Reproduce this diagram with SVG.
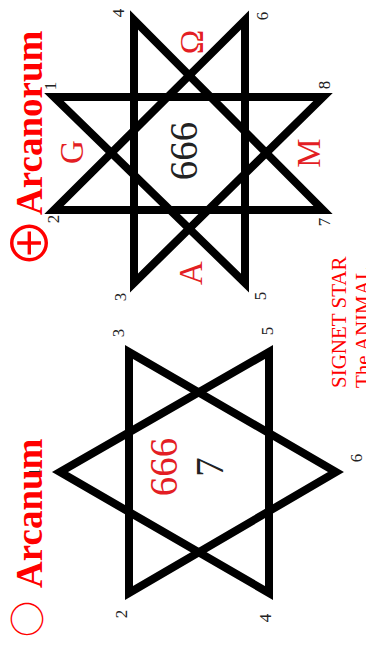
<svg xmlns="http://www.w3.org/2000/svg" width="366" height="645" viewBox="0 0 366 645">
<style>
.star{fill:none;stroke:#000;stroke-width:8;stroke-linejoin:miter;stroke-miterlimit:10}
.lbl{font-family:"Liberation Serif","DejaVu Serif",serif;font-size:17px;fill:#222;text-anchor:middle;dominant-baseline:central}
.title{font-family:"Liberation Serif","DejaVu Serif",serif;font-size:37px;font-weight:bold;fill:#ff0000}
.sym{font-family:"Noto Sans CJK JP","DejaVu Sans",sans-serif;font-size:36px;fill:#ff0000;text-anchor:middle;dominant-baseline:central}
.sym2{font-family:"Noto Sans CJK JP","DejaVu Sans",sans-serif;font-size:50px;fill:#ff0000;text-anchor:middle;dominant-baseline:central}
.big{font-family:"Liberation Serif","DejaVu Serif",serif;font-size:39px;text-anchor:middle}
.let{font-family:"Liberation Serif","DejaVu Serif",serif;font-size:33px;fill:#e31e24;text-anchor:middle}
.note{font-family:"Liberation Serif","DejaVu Serif",serif;font-size:21px;fill:#ff0000}
</style>
<rect width="366" height="645" fill="#fff"/>
<g id="octagram">
<polygon class="star" points="54,97 323,97 134,283 134,20 323,210 54,210 245,20 245,283"/>
<text class="big" fill="#222" transform="translate(197,151) rotate(-90)">666</text>
<text class="let" transform="translate(83,152) rotate(-90)">G</text>
<text class="let" transform="translate(203,42) rotate(-90)">Ω</text>
<text class="let" transform="translate(320,153) rotate(-90)">M</text>
<text class="let" transform="translate(202,273) rotate(-90)">A</text>
<text class="lbl" transform="translate(50,86) rotate(-90)">1</text>
<text class="lbl" transform="translate(53,219) rotate(-90)">2</text>
<text class="lbl" transform="translate(120,297) rotate(-90)">3</text>
<text class="lbl" transform="translate(118,13) rotate(-90)">4</text>
<text class="lbl" transform="translate(260,296) rotate(-90)">5</text>
<text class="lbl" transform="translate(262,16) rotate(-90)">6</text>
<text class="lbl" transform="translate(324,222) rotate(-90)">7</text>
<text class="lbl" transform="translate(324,85) rotate(-90)">8</text>
</g>
<g id="hexagram">
<polygon class="star" points="60,472 269,352 269,593"/>
<polygon class="star" points="129,352 129,593 336,472"/>
<text class="big" fill="#e31e24" transform="translate(177,467) rotate(-90)">666</text>
<text class="big" fill="#222" transform="translate(223,467) rotate(-90)">7</text>
<text class="lbl" transform="translate(34,472) rotate(-90)">1</text>
<text class="lbl" transform="translate(121,614) rotate(-90)">2</text>
<text class="lbl" transform="translate(118,333) rotate(-90)">3</text>
<text class="lbl" transform="translate(265,618) rotate(-90)">4</text>
<text class="lbl" transform="translate(267,331) rotate(-90)">5</text>
<text class="lbl" transform="translate(356,458) rotate(-90)">6</text>
</g>
<g id="title-arcanorum">
<text class="sym2" transform="translate(26,243) rotate(-90)">⊕</text>
<text class="title" transform="translate(42,215) rotate(-90)">Arcanorum</text>
</g>
<g id="title-arcanum">
<text class="sym" transform="translate(25,619) rotate(-90)">○</text>
<text class="title" transform="translate(42,588) rotate(-90)">Arcanum</text>
</g>
<g id="caption">
<text class="note" transform="translate(346,388) rotate(-90)">SIGNET STAR</text>
<text class="note" transform="translate(370,388) rotate(-90)">The ANIMAL</text>
</g>
</svg>
